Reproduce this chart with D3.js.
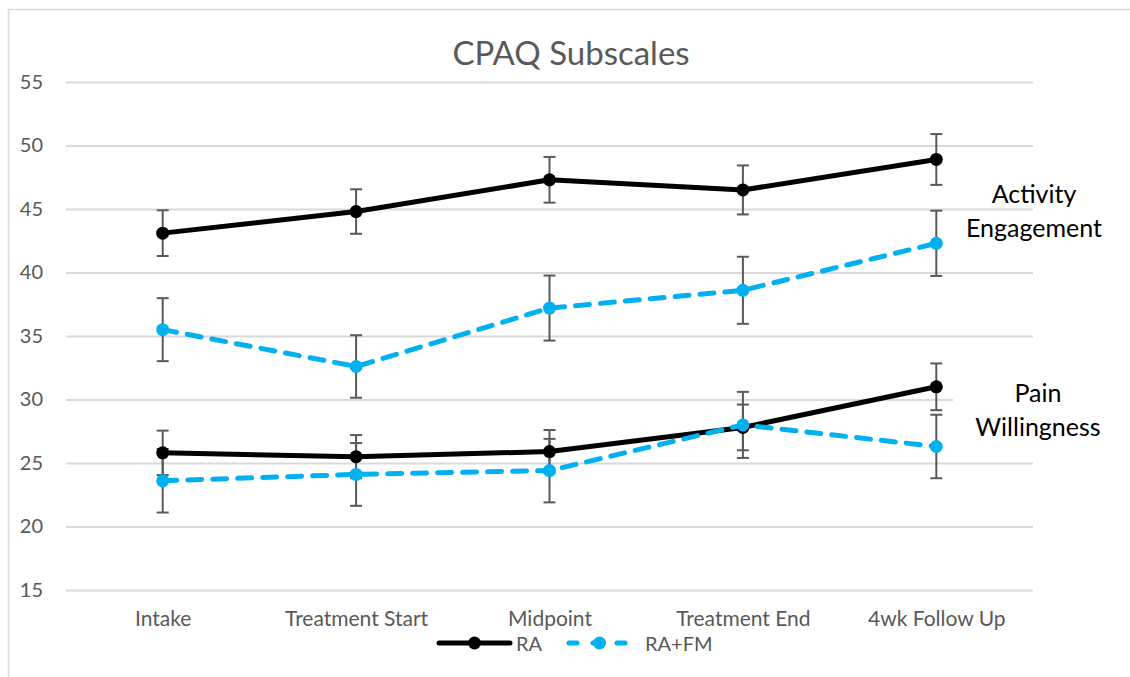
<!DOCTYPE html>
<html>
<head>
<meta charset="utf-8">
<script src="https://cdn.jsdelivr.net/npm/d3@7"></script>
<style>
  html, body { margin: 0; padding: 0; background: #fff; }
  svg { display: block; font-family: Lato, "Liberation Sans", sans-serif; }
</style>
</head>
<body>
<svg id="chart" width="1130" height="677"></svg>
<script>
// Time points
const categories = ["Intake", "Treatment Start", "Midpoint", "Treatment End", "4wk Follow Up"];
const yTicks = [15, 20, 25, 30, 35, 40, 45, 50, 55];

// CPAQ Activity Engagement means and error
const raEngagement   = [43.1, 44.8, 47.3, 46.5, 48.9];
const raEngagementErr = [1.8, 1.75, 1.8, 1.93, 2.0];
const fmEngagement   = [35.5, 32.6, 37.2, 38.6, 42.3];
const fmEngagementErr = [2.48, 2.46, 2.56, 2.64, 2.57];

// CPAQ Pain Willingness means and error
const raWillingness   = [25.8, 25.5, 25.9, 27.8, 31.0];
const raWillingnessErr = [1.75, 1.7, 1.7, 1.8, 1.84];
const fmWillingness   = [23.6, 24.1, 24.4, 28.0, 26.3];
const fmWillingnessErr = [2.5, 2.47, 2.5, 2.6, 2.5];

const groups = [
  { name: "RA", color: "#000000", dash: null },
  { name: "RA+FM", color: "#00B0F0", dash: "14,11" }
];

const series = [
  { group: 0, values: raEngagement, err: raEngagementErr },
  { group: 1, values: fmEngagement, err: fmEngagementErr },
  { group: 0, values: raWillingness, err: raWillingnessErr },
  { group: 1, values: fmWillingness, err: fmWillingnessErr }
];

const svg = d3.select("#chart");
const W = 1130, H = 677;
const plot = { left: 66, right: 1033, top: 82, bottom: 590 };

// Chart frame
svg.append("rect")
  .attr("x", 8.5).attr("y", 9.5)
  .attr("width", W + 20).attr("height", H + 20)
  .attr("fill", "#fff").attr("stroke", "#d9d9d9").attr("stroke-width", 1.5);

const x = d3.scalePoint().domain(categories).range([plot.left, plot.right]).padding(0.5);
const y = d3.scaleLinear().domain([15, 55]).range([plot.bottom, plot.top]);

// Horizontal gridlines + y tick labels
const yAxis = d3.axisLeft(y).tickValues(yTicks).tickSize(-(plot.right - plot.left)).tickPadding(23);
const gy = svg.append("g").attr("transform", `translate(${plot.left},0)`).call(yAxis);
gy.select(".domain").remove();
gy.selectAll(".tick line").attr("stroke", "#d9d9d9").attr("stroke-width", 2);
gy.selectAll(".tick text")
  .attr("fill", "#595959").attr("font-size", 20).attr("font-family", "Lato, sans-serif");

// Category labels
const xAxis = d3.axisBottom(x).tickSize(0).tickPadding(21);
const gx = svg.append("g").attr("transform", `translate(0,${plot.bottom})`).call(xAxis);
gx.select(".domain").remove();
gx.selectAll(".tick text")
  .attr("fill", "#595959").attr("font-size", 21).attr("font-family", "Lato, sans-serif");

// Title
svg.append("text")
  .attr("x", 571).attr("y", 65)
  .attr("text-anchor", "middle")
  .attr("fill", "#595959").attr("font-size", 33)
  .text("CPAQ Subscales");

// Subscale labels (white backing box behind the lower label)
svg.append("rect")
  .attr("x", 953).attr("y", 372).attr("width", 170).attr("height", 70).attr("fill", "#fff");
const notes = [
  { lines: ["Activity", "Engagement"], x: 1034, y: 203 },
  { lines: ["Pain", "Willingness"], x: 1038, y: 402 }
];
notes.forEach(n => {
  n.lines.forEach((t, i) => {
    svg.append("text")
      .attr("x", n.x).attr("y", n.y + i * 34)
      .attr("text-anchor", "middle")
      .attr("fill", "#000").attr("font-size", 25)
      .text(t);
  });
});

const line = d3.line().x((d, i) => x(categories[i])).y(d => y(d));

// Error bars
const errG = svg.append("g");
series.forEach(s => {
  s.values.forEach((v, i) => {
    const cx = x(categories[i]);
    const y1 = y(v + s.err[i]), y0 = y(v - s.err[i]);
    errG.append("line").attr("x1", cx).attr("x2", cx).attr("y1", y1).attr("y2", y0)
      .attr("stroke", "#595959").attr("stroke-width", 2);
    [y1, y0].forEach(yy => {
      errG.append("line").attr("x1", cx - 6).attr("x2", cx + 6).attr("y1", yy).attr("y2", yy)
        .attr("stroke", "#595959").attr("stroke-width", 2);
    });
  });
});

// Lines and markers
series.forEach(s => {
  const g = groups[s.group];
  svg.append("path")
    .datum(s.values)
    .attr("d", line)
    .attr("fill", "none")
    .attr("stroke", g.color)
    .attr("stroke-width", 5)
    .attr("stroke-linecap", g.dash ? "round" : "butt")
    .attr("stroke-linejoin", "round")
    .attr("stroke-dasharray", g.dash);
  svg.append("g").selectAll("circle")
    .data(s.values)
    .join("circle")
    .attr("cx", (d, i) => x(categories[i]))
    .attr("cy", d => y(d))
    .attr("r", 6.5)
    .attr("fill", g.color);
});

// Legend
const legend = [
  { g: groups[0], x0: 439, x1: 510, tx: 516 },
  { g: groups[1], x0: 569, x1: 630, tx: 645 }
];
const ly = 643;
legend.forEach(l => {
  svg.append("line")
    .attr("x1", l.x0).attr("x2", l.x1).attr("y1", ly).attr("y2", ly)
    .attr("stroke", l.g.color).attr("stroke-width", 5)
    .attr("stroke-linecap", "round")
    .attr("stroke-dasharray", l.g.dash ? "8,16" : null);
  svg.append("circle")
    .attr("cx", (l.x0 + l.x1) / 2).attr("cy", ly).attr("r", 6.5).attr("fill", l.g.color);
  svg.append("text")
    .attr("x", l.tx).attr("y", ly + 8)
    .attr("fill", "#595959").attr("font-size", 20)
    .text(l.g.name);
});
</script>
</body>
</html>
